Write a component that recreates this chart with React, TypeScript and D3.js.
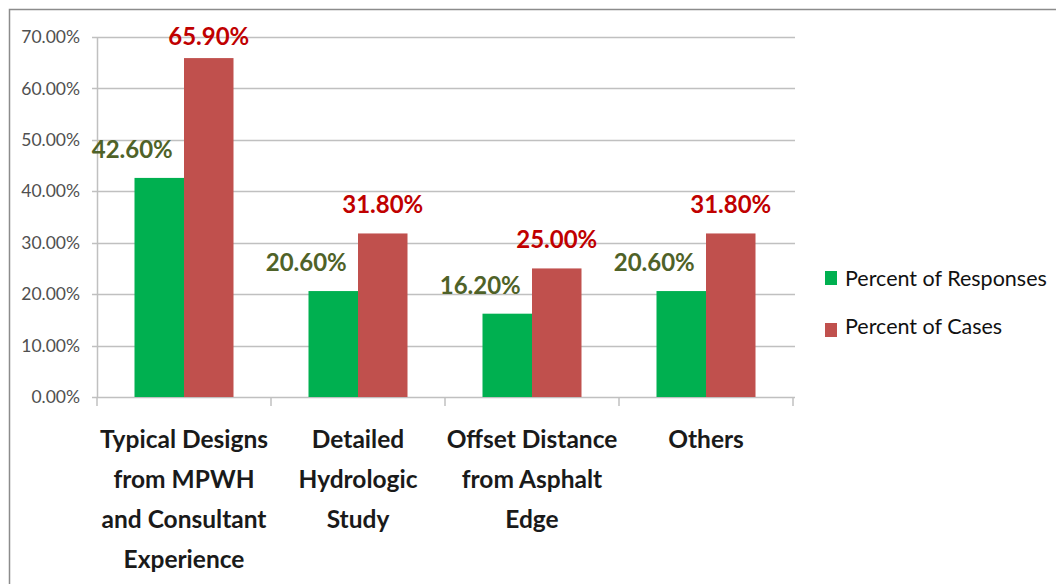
import React from "react";
import * as d3 from "d3";

const categories: string[][] = [
  ["Typical Designs", "from MPWH", "and Consultant", "Experience"],
  ["Detailed", "Hydrologic", "Study"],
  ["Offset Distance", "from Asphalt", "Edge"],
  ["Others"],
];
const responses = [42.6, 20.6, 16.2, 20.6];
const cases = [65.9, 31.8, 25.0, 31.8];
const yTicks = [0, 10, 20, 30, 40, 50, 60, 70];
const seriesNames = ["Percent of Responses", "Percent of Cases"];

const W = 1056;
const H = 584;
const FONT = "Lato, 'Open Sans', sans-serif";

export default function App() {
  const left = 97, right = 793, top = 37, bottom = 397;
  const y = d3.scaleLinear().domain([0, 70]).range([bottom, top]);
  const x0 = d3.scaleBand<number>().domain(d3.range(categories.length)).range([left, right]).paddingInner(0).paddingOuter(0);
  const groupW = 99;
  const x1 = d3.scaleBand<number>().domain([0, 1]).range([0, groupW]);
  const series = [responses, cases];
  const barColors = ["#00b050", "#c0504d"];
  const labelColors = ["#4f6228", "#c00000"];
  const gx = (i: number) => (x0(i) as number) + (x0.bandwidth() - groupW) / 2;

  return (
    <svg width={W} height={H} style={{ position: "absolute", left: 0, top: 0, background: "#fff" }} fontFamily={FONT}>
      <rect x={9.5} y={9.5} width={W + 10} height={H + 10} fill="none" stroke="#8c8c8c" strokeWidth={1.5} />
      {yTicks.map((t) => (
        <g key={t}>
          <line x1={92} x2={795} y1={Math.round(y(t)) + 0.5} y2={Math.round(y(t)) + 0.5} stroke="#c0c0c0" strokeWidth={1.5} />
          <text x={80} y={y(t)} dy="0.35em" textAnchor="end" fontSize={17.5} fill="#505050">
            {t.toFixed(2) + "%"}
          </text>
        </g>
      ))}
      <line x1={97.5} x2={97.5} y1={top} y2={bottom} stroke="#c0c0c0" strokeWidth={1.5} />
      {d3.range(categories.length + 1).map((i) => {
        const xx = left + i * x0.bandwidth();
        return <line key={i} x1={xx} x2={xx} y1={bottom} y2={bottom + 9} stroke="#c0c0c0" strokeWidth={1.5} />;
      })}
      {series.map((vals, s) =>
        vals.map((v, i) => (
          <rect key={s + "-" + i} x={gx(i) + (x1(s) as number)} y={y(v)} width={x1.bandwidth()} height={bottom - y(v)} fill={barColors[s]} />
        ))
      )}
      {series.map((vals, s) =>
        vals.map((v, i) => {
          const cx = gx(i) + (x1(s) as number) + x1.bandwidth() / 2 + (s === 0 ? -27 : 0);
          const by = Math.max(y(v) - 20, 45);
          return (
            <text key={"l" + s + "-" + i} x={cx} y={by} textAnchor="middle" fontSize={24} fontWeight="bold" fill={labelColors[s]}>
              {v.toFixed(2) + "%"}
            </text>
          );
        })
      )}
      {categories.map((lines, i) => (
        <text key={"c" + i} textAnchor="middle" fontSize={24.5} fontWeight="bold" fill="#1a1a1a">
          {lines.map((ln, j) => (
            <tspan key={j} x={(x0(i) as number) + x0.bandwidth() / 2} y={448 + j * 40}>
              {ln}
            </tspan>
          ))}
        </text>
      ))}
      {seriesNames.map((n, s) => (
        <g key={n}>
          <rect x={825} y={271 + s * 52} width={12} height={14} fill={barColors[s]} />
          <text x={845} y={278 + s * 48} dy="0.35em" fontSize={21.5} fill="#111">
            {n}
          </text>
        </g>
      ))}
    </svg>
  );
}
